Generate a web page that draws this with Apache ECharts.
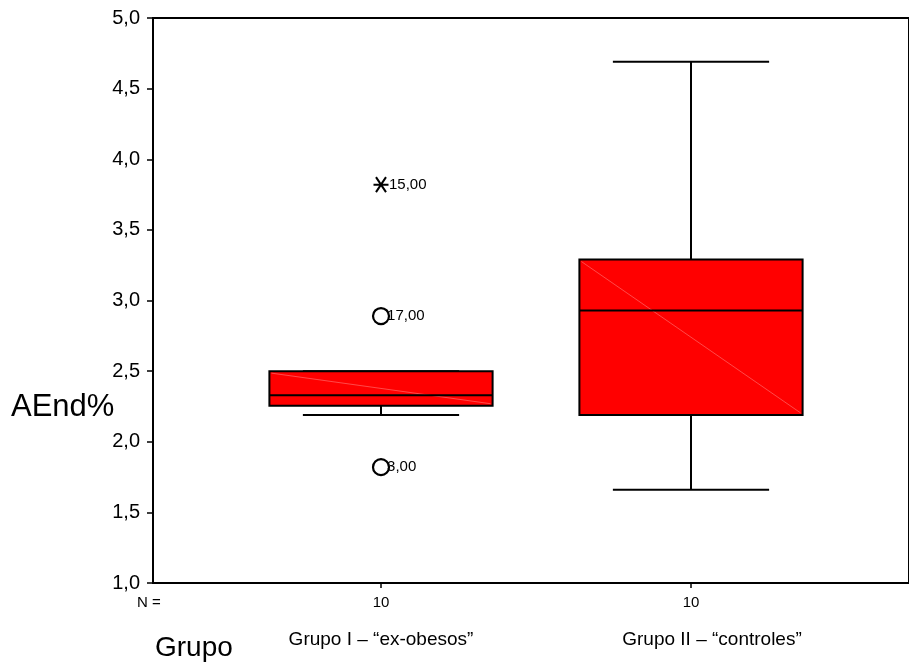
<!DOCTYPE html>
<html><head><meta charset="utf-8">
<script src="https://cdn.jsdelivr.net/npm/echarts@6/dist/echarts.min.js"></script>
<style>html,body{margin:0;padding:0;background:#fff}#c{width:909px;height:666px}</style>
</head><body><div id="c"></div>
<script>
// ---- data ----
var categories = ['Grupo I \u2013 \u201cex-obesos\u201d', 'Grupo II \u2013 \u201ccontroles\u201d'];
var nValues = ['10', '10'];
// [min whisker, Q1, median, Q3, max whisker]
var boxStats = [
  [2.19, 2.255, 2.33, 2.50, 2.50],
  [1.66, 2.19, 2.93, 3.29, 4.69]
];
var outliers = [[0, 2.89, '17,00'], [0, 1.82, '3,00']];
var extremes = [[0, 3.82, '15,00']];
var yTicks = [1.0, 1.5, 2.0, 2.5, 3.0, 3.5, 4.0, 4.5, 5.0];
var yTitle = 'AEnd%';
var xTitle = 'Grupo';
var nLabel = 'N =';

var sans = '"Liberation Sans", Arial, sans-serif';

var chart = echarts.init(document.getElementById('c'));
var boxData = boxStats.map(function (s, i) { return [i].concat(s); });

chart.setOption({
  animation: false,
  backgroundColor: '#fff',
  grid: [
    { left: 153, top: 18, width: 760, height: 565, show: true, borderColor: '#000', borderWidth: 2, backgroundColor: 'transparent' },
    { left: 226, top: 18, width: 620, height: 565 }
  ],
  xAxis: [
    { gridIndex: 0, type: 'value', min: 0, max: 1, show: false },
    { gridIndex: 1, type: 'category', data: categories,
      axisLine: { show: false },
      axisTick: { show: true, alignWithLabel: true, length: 5, lineStyle: { color: '#000', width: 1.5 } },
      axisLabel: { formatter: function (v, i) { return nValues[i]; }, margin: 12, fontSize: 15, color: '#000', fontFamily: sans }
    }
  ],
  yAxis: [
    { gridIndex: 0, type: 'value', min: yTicks[0], max: yTicks[yTicks.length - 1], interval: 0.5,
      axisLine: { show: true, lineStyle: { color: '#000', width: 2 } },
      axisTick: { show: true, length: 6, lineStyle: { color: '#000', width: 1.5 } },
      splitLine: { show: false },
      axisLabel: { formatter: function (v) { return v.toFixed(1).replace('.', ','); }, fontSize: 20, color: '#000', margin: 13, fontFamily: sans }
    },
    { gridIndex: 1, type: 'value', min: yTicks[0], max: yTicks[yTicks.length - 1], show: false }
  ],
  series: [
    {
      type: 'custom', xAxisIndex: 1, yAxisIndex: 1, data: boxData,
      renderItem: function (params, api) {
        var idx = api.value(0);
        var bw = api.size([1, 0])[0] * 0.72;
        var cw = bw * 0.7;
        var lo = api.coord([idx, api.value(1)]);
        var q1 = api.coord([idx, api.value(2)]);
        var md = api.coord([idx, api.value(3)]);
        var q3 = api.coord([idx, api.value(4)]);
        var hi = api.coord([idx, api.value(5)]);
        var x = lo[0];
        var ls = { stroke: '#000', lineWidth: 2 };
        return { type: 'group', children: [
          { type: 'line', shape: { x1: x, y1: hi[1], x2: x, y2: q3[1] }, style: ls },
          { type: 'line', shape: { x1: x, y1: q1[1], x2: x, y2: lo[1] }, style: ls },
          { type: 'line', shape: { x1: x - cw / 2, y1: hi[1], x2: x + cw / 2, y2: hi[1] }, style: ls },
          { type: 'line', shape: { x1: x - cw / 2, y1: lo[1], x2: x + cw / 2, y2: lo[1] }, style: ls },
          { type: 'rect', shape: { x: x - bw / 2, y: q3[1], width: bw, height: q1[1] - q3[1] }, style: { fill: '#ff0000', stroke: '#000', lineWidth: 2 } },
          { type: 'line', shape: { x1: x - bw / 2 + 2, y1: q3[1] + 2, x2: x + bw / 2 - 2, y2: q1[1] - 2 }, style: { stroke: '#ff7a7a', lineWidth: 0.6 } },
          { type: 'line', shape: { x1: x - bw / 2, y1: md[1], x2: x + bw / 2, y2: md[1] }, style: ls }
        ] };
      }
    },
    {
      type: 'scatter', xAxisIndex: 1, yAxisIndex: 1, data: outliers,
      symbol: 'circle', symbolSize: 16,
      itemStyle: { color: '#fff', borderColor: '#000', borderWidth: 2.2, opacity: 1 },
      label: { show: true, position: 'right', distance: -3, formatter: function (p) { return p.data[2]; }, fontSize: 15, color: '#000', fontFamily: sans }
    },
    {
      type: 'scatter', xAxisIndex: 1, yAxisIndex: 1, data: extremes,
      symbol: 'path://M1,0L9,10M9,0L1,10M-1,5L11,5', symbolSize: 15,
      itemStyle: { color: 'none', borderColor: '#000', borderWidth: 2, opacity: 1 },
      label: { show: true, position: 'right', distance: -2, formatter: function (p) { return p.data[2]; }, fontSize: 15, color: '#000', fontFamily: sans }
    }
  ],
  graphic: [
    { type: 'text', x: 11, y: 407, style: { text: yTitle, fontSize: 31, fill: '#000', fontFamily: sans, verticalAlign: 'middle' } },
    { type: 'text', x: 137, y: 603, style: { text: nLabel, fontSize: 15, fill: '#000', fontFamily: sans, verticalAlign: 'middle' } },
    { type: 'text', x: 155, y: 648, style: { text: xTitle, fontSize: 28, fill: '#000', fontFamily: sans, verticalAlign: 'middle' } },
    { type: 'text', x: 381, y: 640, style: { text: categories[0], fontSize: 19, fill: '#000', fontFamily: sans, align: 'center', verticalAlign: 'middle' } },
    { type: 'text', x: 712, y: 640, style: { text: categories[1], fontSize: 19, fill: '#000', fontFamily: sans, align: 'center', verticalAlign: 'middle' } }
  ]
});
</script></body></html>
